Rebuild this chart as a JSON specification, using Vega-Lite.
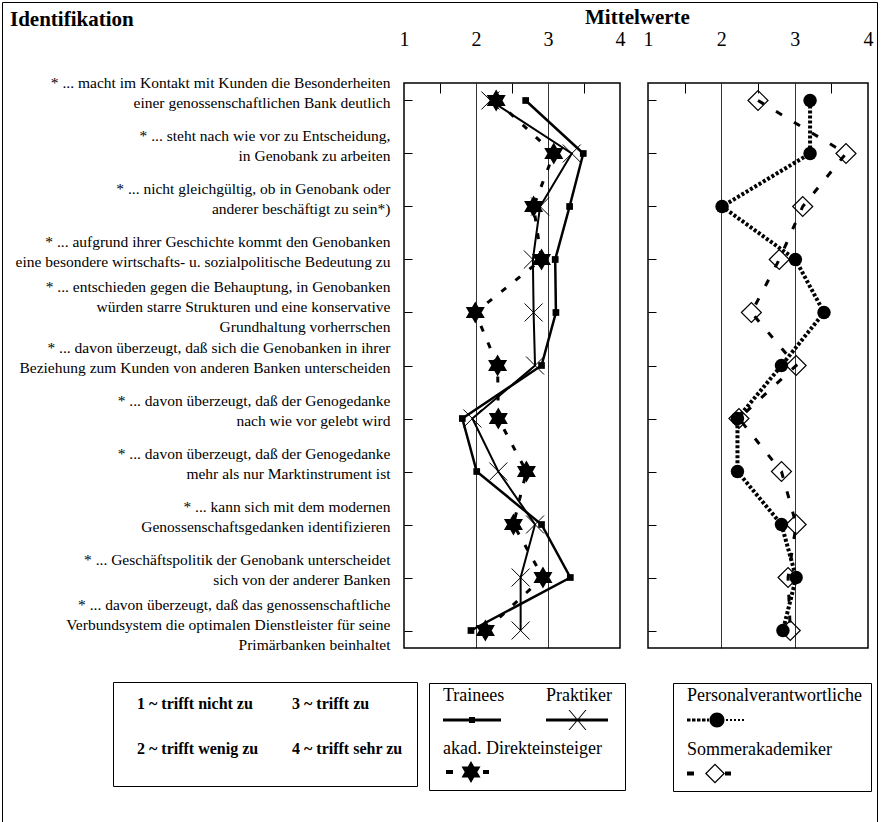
{
  "$schema": "https://vega.github.io/schema/vega-lite/v6.json",
  "padding": {"left": 0, "top": 0, "right": 2, "bottom": 0},
  "background": "white",
  "bounds": "flush",
  "spacing": 28,
  "config": {
    "font": "Liberation Serif",
    "view": {"stroke": "black", "strokeWidth": 1.5}
  },
  "datasets": {
    "items": [
      {"row": 1, "item": "* ... macht im Kontakt mit Kunden die Besonderheiten|einer genossenschaftlichen Bank deutlich"},
      {"row": 2, "item": "* ... steht nach wie vor zu Entscheidung,|in Genobank zu arbeiten"},
      {"row": 3, "item": "* ... nicht gleichgültig, ob in Genobank oder|anderer beschäftigt zu sein*)"},
      {"row": 4, "item": "* ... aufgrund ihrer Geschichte kommt den Genobanken|eine besondere wirtschafts- u. sozialpolitische Bedeutung zu"},
      {"row": 5, "item": "* ... entschieden gegen die Behauptung, in Genobanken|würden starre Strukturen und eine konservative|Grundhaltung vorherrschen"},
      {"row": 6, "item": "* ... davon überzeugt, daß sich die Genobanken in ihrer|Beziehung zum Kunden von anderen Banken unterscheiden"},
      {"row": 7, "item": "* ... davon überzeugt, daß der Genogedanke|nach wie vor gelebt wird"},
      {"row": 8, "item": "* ... davon überzeugt, daß der Genogedanke|mehr als nur Marktinstrument ist"},
      {"row": 9, "item": "* ... kann sich mit dem modernen|Genossenschaftsgedanken identifizieren"},
      {"row": 10, "item": "* ... Geschäftspolitik der  Genobank unterscheidet|sich von der anderer Banken"},
      {"row": 11, "item": "* ... davon überzeugt, daß das genossenschaftliche|Verbundsystem die optimalen Dienstleister für seine|Primärbanken beinhaltet"}
    ],
    "werte": [
      {"row": 1, "group": "Trainees", "value": 2.69},
      {"row": 2, "group": "Trainees", "value": 3.49},
      {"row": 3, "group": "Trainees", "value": 3.30},
      {"row": 4, "group": "Trainees", "value": 3.10},
      {"row": 5, "group": "Trainees", "value": 3.11},
      {"row": 6, "group": "Trainees", "value": 2.91},
      {"row": 7, "group": "Trainees", "value": 1.81},
      {"row": 8, "group": "Trainees", "value": 2.01},
      {"row": 9, "group": "Trainees", "value": 2.91},
      {"row": 10, "group": "Trainees", "value": 3.31},
      {"row": 11, "group": "Trainees", "value": 1.93},
      {"row": 1, "group": "Praktiker", "value": 2.20},
      {"row": 2, "group": "Praktiker", "value": 3.33},
      {"row": 3, "group": "Praktiker", "value": 2.89},
      {"row": 4, "group": "Praktiker", "value": 2.79},
      {"row": 5, "group": "Praktiker", "value": 2.80},
      {"row": 6, "group": "Praktiker", "value": 2.82},
      {"row": 7, "group": "Praktiker", "value": 1.95},
      {"row": 8, "group": "Praktiker", "value": 2.31},
      {"row": 9, "group": "Praktiker", "value": 2.82},
      {"row": 10, "group": "Praktiker", "value": 2.62},
      {"row": 11, "group": "Praktiker", "value": 2.62},
      {"row": 1, "group": "akad. Direkteinsteiger", "value": 2.28},
      {"row": 2, "group": "akad. Direkteinsteiger", "value": 3.08},
      {"row": 3, "group": "akad. Direkteinsteiger", "value": 2.80},
      {"row": 4, "group": "akad. Direkteinsteiger", "value": 2.91},
      {"row": 5, "group": "akad. Direkteinsteiger", "value": 1.99},
      {"row": 6, "group": "akad. Direkteinsteiger", "value": 2.30},
      {"row": 7, "group": "akad. Direkteinsteiger", "value": 2.31},
      {"row": 8, "group": "akad. Direkteinsteiger", "value": 2.70},
      {"row": 9, "group": "akad. Direkteinsteiger", "value": 2.52},
      {"row": 10, "group": "akad. Direkteinsteiger", "value": 2.93},
      {"row": 11, "group": "akad. Direkteinsteiger", "value": 2.13},
      {"row": 1, "group": "Personalverantwortliche", "value": 3.21},
      {"row": 2, "group": "Personalverantwortliche", "value": 3.21},
      {"row": 3, "group": "Personalverantwortliche", "value": 2.01},
      {"row": 4, "group": "Personalverantwortliche", "value": 3.01},
      {"row": 5, "group": "Personalverantwortliche", "value": 3.40},
      {"row": 6, "group": "Personalverantwortliche", "value": 2.82},
      {"row": 7, "group": "Personalverantwortliche", "value": 2.22},
      {"row": 8, "group": "Personalverantwortliche", "value": 2.22},
      {"row": 9, "group": "Personalverantwortliche", "value": 2.82},
      {"row": 10, "group": "Personalverantwortliche", "value": 3.02},
      {"row": 11, "group": "Personalverantwortliche", "value": 2.84},
      {"row": 1, "group": "Sommerakademiker", "value": 2.50},
      {"row": 2, "group": "Sommerakademiker", "value": 3.70},
      {"row": 3, "group": "Sommerakademiker", "value": 3.11},
      {"row": 4, "group": "Sommerakademiker", "value": 2.79},
      {"row": 5, "group": "Sommerakademiker", "value": 2.41},
      {"row": 6, "group": "Sommerakademiker", "value": 3.02},
      {"row": 7, "group": "Sommerakademiker", "value": 2.24},
      {"row": 8, "group": "Sommerakademiker", "value": 2.82},
      {"row": 9, "group": "Sommerakademiker", "value": 3.02},
      {"row": 10, "group": "Sommerakademiker", "value": 2.91},
      {"row": 11, "group": "Sommerakademiker", "value": 2.94}
    ]
  },
  "data": {"name": "werte"},
  "transform": [
    {"lookup": "row", "from": {"data": {"name": "items"}, "key": "row", "fields": ["item"]}}
  ],
  "resolve": {
    "scale": {"shape": "independent", "color": "independent", "strokeDash": "independent", "opacity": "independent"},
    "legend": {"shape": "independent", "color": "independent", "strokeDash": "independent", "opacity": "independent"}
  },
  "hconcat": [
    {
      "width": 216,
      "height": 565,
      "title": {"text": "Identifikation", "anchor": "start", "frame": "group", "dx": -394, "dy": 28, "font": "Liberation Serif", "fontSize": 21, "fontWeight": "bold", "color": "black", "offset": 0},
      "layer": [
        {
          "encoding": {
            "x": {
              "field": "value", "type": "quantitative",
              "scale": {"domain": [1, 4], "nice": false, "zero": false},
              "axis": {
                "orient": "top", "title": null,
                "values": [1, 1.5, 2, 2.5, 3, 3.5, 4],
                "labelExpr": "datum.value % 1 === 0 ? format(datum.value, 'd') : ''",
                "labelFont": "Liberation Serif", "labelFontSize": 20, "labelColor": "black",
                "labelFlush": false, "labelOverlap": false, "labelPadding": 44,
                "domain": false,
                "ticks": true, "tickSize": -10, "tickColor": "black", "tickWidth": 1,
                "tickOpacity": {"condition": {"test": "datum.value % 1 !== 0", "value": 1}, "value": 0},
                "grid": true, "gridColor": "black", "gridWidth": 0.8,
                "gridOpacity": {"condition": {"test": "datum.value === 2 || datum.value === 3", "value": 1}, "value": 0}
              }
            },
            "y": {
              "field": "item", "type": "nominal",
              "sort": {"field": "row", "op": "min"},
              "scale": {"type": "point", "padding": 0.33},
              "axis": {
                "title": null, "domain": false, "grid": false,
                "ticks": true, "tickSize": -8, "tickColor": "black", "tickWidth": 1,
                "labelExpr": "split(datum.label, '|')",
                "labelAlign": "right", "labelBaseline": "middle",
                "labelFont": "Liberation Serif", "labelFontSize": 15.5, "labelLineHeight": 20,
                "labelColor": "black", "labelPadding": 22,
                "labelOffset": {"condition": {"test": "length(split(datum.label, '|')) > 2", "value": -26}, "value": -18},
                "labelLimit": 1000, "labelOverlap": false
              }
            }
          },
          "layer": [
            {
              "transform": [{"filter": "datum.group === 'Trainees'"}],
              "mark": {"type": "line", "color": "black", "strokeWidth": 2.5},
              "encoding": {"order": {"field": "row", "type": "quantitative"}}
            },
            {
              "transform": [{"filter": "datum.group === 'Praktiker'"}],
              "mark": {"type": "line", "color": "black", "strokeWidth": 2},
              "encoding": {"order": {"field": "row", "type": "quantitative"}}
            },
            {
              "transform": [{"filter": "datum.group === 'akad. Direkteinsteiger'"}],
              "mark": {"type": "line", "color": "black", "strokeWidth": 3, "strokeDash": [6, 12]},
              "encoding": {"order": {"field": "row", "type": "quantitative"}}
            },
            {
              "transform": [{"filter": "datum.group === 'Trainees'"}],
              "mark": {"type": "point", "shape": "square", "size": 45, "filled": true, "color": "black", "opacity": 1}
            },
            {
              "transform": [{"filter": "datum.group === 'Praktiker'"}],
              "mark": {"type": "point", "shape": "M-1,-1L1,1M-1,1L1,-1", "size": 324, "filled": false, "color": "black", "strokeWidth": 1, "opacity": 1}
            },
            {
              "transform": [{"filter": "datum.group === 'akad. Direkteinsteiger'"}],
              "mark": {"type": "point", "shape": "M0,-1L0.866,0.5L-0.866,0.5Z M0,1L-0.866,-0.5L0.866,-0.5Z", "size": 484, "filled": true, "color": "black", "opacity": 1}
            }
          ]
        },
        {
          "transform": [{"filter": "false"}],
          "mark": {"type": "point", "shape": "M0,0M0,23", "filled": true, "opacity": 1},
          "encoding": {
            "color": {
              "field": "stufe", "type": "nominal",
              "scale": {"domain": ["1 ~ trifft nicht zu", "3 ~ trifft zu", "2 ~ trifft wenig zu", "4 ~ trifft sehr zu"], "range": ["black", "black", "black", "black"]},
              "legend": {
                "orient": "none", "legendX": -291, "legendY": 599,
                "direction": "horizontal", "columns": 2,
                "title": null, "strokeColor": "black", "padding": 14,
                "symbolSize": 4, "symbolStrokeWidth": 0, "labelOffset": -6,
                "labelFont": "Liberation Serif", "labelFontSize": 16, "labelFontWeight": "bold", "labelColor": "black",
                "columnPadding": 23, "rowPadding": 14, "labelLimit": 400
              }
            }
          }
        },
        {
          "transform": [{"filter": "false"}],
          "mark": {"type": "point", "filled": true, "color": "black", "opacity": 1},
          "encoding": {
            "shape": {
              "field": "group", "type": "nominal",
              "scale": {
                "domain": ["Trainees", "akad. Direkteinsteiger"],
                "range": [
                  "M1,22.5h58v3h-58z M27,21h6v6h-6z M179,0",
                  "M4,21h7v4h-7z M29,12L38.5,28.5L19.5,28.5Z M29,34L19.5,17.5L38.5,17.5Z M41,21h6v4h-6z M0,37"
                ]
              },
              "legend": {
                "orient": "none", "legendX": 25, "legendY": 600,
                "direction": "vertical", "columns": 1,
                "title": null, "strokeColor": "black", "padding": 4,
                "symbolSize": 4, "symbolStrokeWidth": 0, "symbolFillColor": "black", "labelOffset": -8,
                "labelFont": "Liberation Serif", "labelFontSize": 18, "labelColor": "black",
                "rowPadding": 17, "labelLimit": 400
              }
            }
          }
        },
        {
          "transform": [{"filter": "false"}],
          "mark": {"type": "point", "filled": true, "color": "black", "opacity": 1, "shape": "M1,22.5h62v3h-62z M23.5,14L24.7,14L41.5,34L40.3,34Z M40.3,14L41.5,14L24.7,34L23.5,34Z"},
          "encoding": {
            "strokeDash": {
              "field": "group", "type": "nominal",
              "scale": {"domain": ["Praktiker"], "range": [[1, 0]]},
              "legend": {
                "orient": "none", "legendX": 132, "legendY": 604,
                "title": null, "padding": 0,
                "symbolType": "M1,22.5h62v3h-62z M23.5,14L24.7,14L41.5,34L40.3,34Z M40.3,14L41.5,14L24.7,34L23.5,34Z",
                "symbolSize": 4, "symbolStrokeWidth": 0, "symbolFillColor": "black", "labelOffset": -8,
                "labelFont": "Liberation Serif", "labelFontSize": 18, "labelColor": "black", "labelLimit": 400
              }
            }
          }
        },
        {
          "transform": [{"filter": "false"}],
          "mark": {"type": "point", "filled": true, "color": "black", "opacity": 1, "shape": "M-8,-8M874,821"},
          "encoding": {
            "opacity": {
              "field": "rahmen", "type": "ordinal",
              "scale": {"domain": ["Rahmen"], "range": [1]},
              "legend": {
                "orient": "none", "legendX": -402, "legendY": -81,
                "title": null, "padding": 0, "strokeColor": "black",
                "symbolType": "M-8,-8M874,821",
                "symbolSize": 4, "symbolStrokeWidth": 0,
                "labelExpr": "''", "labelFontSize": 1
              }
            }
          }
        }
      ]
    },
    {
      "width": 220,
      "height": 565,
      "title": {"text": "Mittelwerte", "anchor": "start", "frame": "group", "dx": -63, "dy": -1, "font": "Liberation Serif", "fontSize": 21, "fontWeight": "bold", "color": "black", "offset": 0},
      "layer": [
        {
          "encoding": {
            "x": {
              "field": "value", "type": "quantitative",
              "scale": {"domain": [1, 4], "nice": false, "zero": false},
              "axis": {
                "orient": "top", "title": null,
                "values": [1, 1.5, 2, 2.5, 3, 3.5, 4],
                "labelExpr": "datum.value % 1 === 0 ? format(datum.value, 'd') : ''",
                "labelFont": "Liberation Serif", "labelFontSize": 20, "labelColor": "black",
                "labelFlush": false, "labelOverlap": false, "labelPadding": 44,
                "domain": false,
                "ticks": true, "tickSize": -10, "tickColor": "black", "tickWidth": 1,
                "tickOpacity": {"condition": {"test": "datum.value % 1 !== 0", "value": 1}, "value": 0},
                "grid": true, "gridColor": "black", "gridWidth": 0.8,
                "gridOpacity": {"condition": {"test": "datum.value === 2 || datum.value === 3", "value": 1}, "value": 0}
              }
            },
            "y": {
              "field": "item", "type": "nominal",
              "sort": {"field": "row", "op": "min"},
              "scale": {"type": "point", "padding": 0.33},
              "axis": {
                "title": null, "domain": false, "grid": false, "labels": false,
                "ticks": true, "tickSize": -8, "tickColor": "black", "tickWidth": 1
              }
            }
          },
          "layer": [
            {
              "transform": [{"filter": "datum.group === 'Personalverantwortliche'"}],
              "mark": {"type": "line", "color": "black", "strokeWidth": 4, "strokeDash": [3, 2]},
              "encoding": {"order": {"field": "row", "type": "quantitative"}}
            },
            {
              "transform": [{"filter": "datum.group === 'Sommerakademiker'"}],
              "mark": {"type": "line", "color": "black", "strokeWidth": 3, "strokeDash": [7, 14]},
              "encoding": {"order": {"field": "row", "type": "quantitative"}}
            },
            {
              "transform": [{"filter": "datum.group === 'Personalverantwortliche'"}],
              "mark": {"type": "point", "shape": "circle", "size": 180, "filled": true, "color": "black", "opacity": 1}
            },
            {
              "transform": [{"filter": "datum.group === 'Sommerakademiker'"}],
              "mark": {"type": "point", "shape": "diamond", "size": 400, "filled": false, "color": "black", "strokeWidth": 1.2, "opacity": 1}
            }
          ]
        },
        {
          "transform": [{"filter": "false"}],
          "mark": {"type": "point", "filled": true, "color": "black", "opacity": 1},
          "encoding": {
            "shape": {
              "field": "group", "type": "nominal",
              "scale": {
                "domain": ["Personalverantwortliche", "Sommerakademiker"],
                "range": [
                  "M1,22.5h3.5v3h-3.5z M6,22.5h3.5v3h-3.5z M11,22.5h3.5v3h-3.5z M16,22.5h3.5v3h-3.5z M21,22.5h2v3h-2z M23.5,24a7.5,7.5 0 1,1 15,0a7.5,7.5 0 1,1 -15,0Z M40,23h2v2h-2z M44,23h2v2h-2z M48,23h2v2h-2z M52,23h2v2h-2z M56,23h2v2h-2z M181,0",
                  "M1,22h7v4h-7z M29,14L39,24L29,34L19,24Z M29,15.8L20.8,24L29,32.2L37.2,24Z M39,22h6v4h-6z M0,37"
                ]
              },
              "legend": {
                "orient": "none", "legendX": 25, "legendY": 600,
                "direction": "vertical", "columns": 1,
                "title": null, "strokeColor": "black", "padding": 4,
                "symbolSize": 4, "symbolStrokeWidth": 0, "symbolFillColor": "black", "labelOffset": -8,
                "labelFont": "Liberation Serif", "labelFontSize": 18, "labelColor": "black",
                "rowPadding": 12.5, "labelLimit": 400
              }
            }
          }
        }
      ]
    }
  ]
}
